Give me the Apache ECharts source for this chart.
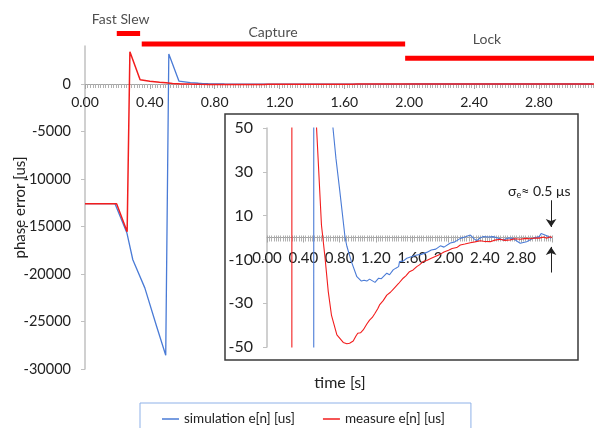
<!DOCTYPE html>
<html><head><meta charset="utf-8">
<script src="https://cdn.jsdelivr.net/npm/echarts@6/dist/echarts.min.js"></script>
<style>html,body{margin:0;padding:0;background:#fff}#c{width:594px;height:428px}</style>
</head><body><div id="c"></div>
<script>
// ---- data ----
const simTime = [0.00,0.10,0.185,0.258,0.295,0.369,0.443,0.498,0.517,0.58,0.65,0.70,0.727,0.76,0.80,0.83,0.86,0.88,0.93,0.99,1.04,1.07,1.10,1.13,1.15,1.19,1.23,1.26,1.28,1.32,1.35,1.39,1.42,1.45,1.46,1.50,1.54,1.59,1.65,1.70,1.76,1.81,1.86,1.91,1.95,2.02,2.07,2.13,2.18,2.24,2.28,2.31,2.35,2.38,2.44,2.49,2.55,2.60,2.66,2.71,2.76,2.79,2.86,2.93,3.00,3.02,3.04,3.09,3.13];
const simErr  = [-12600,-12600,-12600,-15650,-18500,-21460,-25580,-28550,3150,300,150,80,50,36,22,11,0,-4,-11,-17.9,-19.9,-19.5,-19.9,-19.0,-19.4,-20.5,-18.6,-18.8,-17.9,-16.3,-17.0,-14.8,-14.0,-13.3,-11,-10.8,-9.5,-8.8,-8.0,-7.7,-6.8,-5.7,-5.3,-3.8,-4.4,-2.5,-2.0,-0.4,0.2,1.1,-0.5,-1.5,-0.2,0.4,0.2,0.4,-0.3,-1.1,-0.2,-0.4,-1.8,-2.6,-1.9,-0.4,0.4,1.8,1.6,0.7,-0.4];
const measTime = [0.00,0.10,0.195,0.26,0.277,0.34,0.40,0.46,0.50,0.54,0.60,0.64,0.675,0.71,0.77,0.84,0.88,0.91,0.95,0.98,1.00,1.03,1.06,1.10,1.13,1.16,1.19,1.22,1.24,1.28,1.32,1.36,1.40,1.45,1.50,1.53,1.57,1.61,1.65,1.68,1.72,1.76,1.81,1.86,1.91,1.95,2.00,2.04,2.09,2.13,2.18,2.24,2.29,2.35,2.40,2.46,2.51,2.57,2.62,2.68,2.73,2.79,2.85,2.90,2.95,3.00,3.05,3.08,3.12,3.14];
const measErr  = [-12600,-12600,-12600,-15550,3400,450,300,180,120,55,5.7,-9.5,-24.7,-35.4,-44.5,-47.9,-48.5,-48.3,-47.3,-45,-43.7,-43.5,-42.2,-39.5,-37.7,-36.5,-34.6,-32.5,-30.8,-28.8,-26.3,-25.0,-23.2,-21.0,-18.6,-17.5,-15.6,-14.8,-13.3,-12.5,-11,-10.5,-9.5,-8.6,-7.6,-6.6,-5.8,-5.0,-4.6,-3.4,-3.0,-2.4,-2.0,-1.5,-1.8,-1.9,-1.2,-0.8,-1.3,-1.1,-0.6,-0.8,-0.4,-0.6,-0.2,-0.3,0.2,-0.3,0.3,0];
const seriesNames = ['simulation e[n] [us]', 'measure e[n] [us]'];
const phaseNames = ['Fast Slew', 'Capture', 'Lock'];
const phaseStart = [0.196, 0.35, 1.975];
const phaseEnd   = [0.34, 1.975, 3.14];
const phaseRow   = [33.5, 44, 58.3];
const phaseLabelX   = [0.22, 1.16, 2.48];
const phaseLabelRow = [19, 32, 39];
const mainXTicks = {min: 0, max: 3.14, step: 0.4};
const mainYTicks = {min: -30000, max: 4000, step: 5000};
const insetYTicks = {min: -50, max: 50, step: 20};
const sigmaArrowT = 3.13;
const sigmaArrowDown = [17, 4.8];
const sigmaArrowUp = [-16, -4.3];
const sigmaLabelPos = [3.0, 20.8];

// ---- chart ----
const BLUE = '#4a7bd6', RED = '#f21d1d';
const zip = (a, b) => a.map((t, i) => [t, b[i]]);
const simData = zip(simTime, simErr), measData = zip(measTime, measErr);
const fmt2 = v => v.toFixed(2);

// axis line at zero with dense minor ticks pointing down (labels drawn by a companion axis)
const zeroAxis = (gi, split, extra) => Object.assign({
  gridIndex: gi, type: 'value', position: 'bottom', min: mainXTicks.min, max: mainXTicks.max, interval: mainXTicks.step,
  axisLine: {onZero: true, lineStyle: {color: '#a6a6a6', width: 1}},
  axisTick: {show: true, length: 5, lineStyle: {color: '#a6a6a6'}},
  minorTick: {show: true, splitNumber: split, length: 4, lineStyle: {color: '#b0b0b0'}},
  splitLine: {show: false},
  axisLabel: {show: false}
}, extra || {});
// label axis along the bottom of a helper grid whose bottom edge is the zero line (short ticks pointing up)
const labelAxis = (gi, split, fs, margin, extra) => Object.assign({
  gridIndex: gi, type: 'value', position: 'bottom', min: mainXTicks.min, max: mainXTicks.max, interval: mainXTicks.step,
  axisLine: {show: false},
  axisTick: {show: true, inside: true, length: 2, lineStyle: {color: '#a6a6a6'}},
  minorTick: {show: true, splitNumber: split, length: 2, lineStyle: {color: '#b0b0b0'}},
  splitLine: {show: false},
  axisLabel: {show: true, formatter: fmt2, showMaxLabel: false, margin: margin, color: '#222', fontSize: fs, fontFamily: 'Lato'}
}, extra || {});

const chart = echarts.init(document.getElementById('c'), null, {renderer: 'canvas'});
const NB = {outerBoundsMode: 'none', containLabel: false};
const option = {
  animation: false,
  backgroundColor: '#fff',
  textStyle: {fontFamily: 'Lato'},
  grid: [
    Object.assign({left: 85, right: 0, top: 46, bottom: 59}, NB),
    Object.assign({left: 267, top: 128, width: 285, height: 219}, NB),
    Object.assign({left: 85, right: 0, top: 0, height: 84}, NB),
    Object.assign({left: 267, top: 128, width: 285, height: 109.5}, NB)
  ],
  xAxis: [
    zeroAxis(0, 25),
    zeroAxis(1, 16, {z: 20}),
    labelAxis(2, 25, 14, 11),
    labelAxis(3, 16, 15, 13, {z: 20})
  ],
  yAxis: [
    {gridIndex: 0, type: 'value', min: mainYTicks.min, max: mainYTicks.max, interval: mainYTicks.step,
     name: 'phase error [us]', nameLocation: 'middle', nameGap: 57, nameRotate: 90, nameMoveOverlap: false,
     nameTextStyle: {fontSize: 15, color: '#222', fontFamily: 'Lato'},
     axisLine: {show: true, lineStyle: {color: '#c0c0c0', width: 1.5}},
     axisTick: {show: true, length: 4, lineStyle: {color: '#c0c0c0'}},
     splitLine: {show: false},
     axisLabel: {formatter: v => String(v), showMaxLabel: false, margin: 14, color: '#222', fontSize: 14.5, fontFamily: 'Lato'}},
    {gridIndex: 1, type: 'value', min: insetYTicks.min, max: insetYTicks.max, interval: insetYTicks.step, z: 20,
     axisLine: {show: true, lineStyle: {color: '#c0c0c0', width: 1.5}},
     axisTick: {show: true, length: 4, lineStyle: {color: '#c0c0c0'}},
     splitLine: {show: false},
     axisLabel: {formatter: v => String(v), margin: 14, color: '#222', fontSize: 16, fontFamily: 'Lato'}},
    {gridIndex: 2, type: 'value', min: 0, max: 84, inverse: true, show: false},
    {gridIndex: 3, type: 'value', min: 0, max: 1, show: false}
  ],
  legend: {
    left: 140, top: 403, data: seriesNames, icon: 'rect', itemWidth: 17, itemHeight: 1.5, itemGap: 28,
    borderColor: '#8eb1e8', borderWidth: 1, padding: [9, 26, 12, 22],
    textStyle: {fontSize: 13.5, color: '#222', fontFamily: 'Lato'}
  },
  graphic: {elements: [
    {type: 'rect', z: 10, shape: {x: 225, y: 114, width: 353, height: 246},
     style: {fill: '#fff', stroke: '#3a3a3a', lineWidth: 1.5}},
    {type: 'text', z: 10, x: 340, y: 383,
     style: {text: 'time [s]', font: '16px Lato', fill: '#222', textAlign: 'center', textVerticalAlign: 'middle', verticalAlign: 'middle'}}
  ]},
  series: [
    {name: seriesNames[0], type: 'line', xAxisIndex: 0, yAxisIndex: 0, data: simData, showSymbol: false, symbol: 'none',
     color: BLUE, lineStyle: {color: BLUE, width: 1.3}, z: 2},
    {name: seriesNames[1], type: 'line', xAxisIndex: 0, yAxisIndex: 0, data: measData, showSymbol: false, symbol: 'none',
     color: RED, lineStyle: {color: RED, width: 1.5}, z: 3},
    {name: seriesNames[0], type: 'line', xAxisIndex: 1, yAxisIndex: 1, data: simData, showSymbol: false, symbol: 'none',
     color: BLUE, lineStyle: {color: BLUE, width: 1.1}, z: 21, clip: true},
    {name: seriesNames[1], type: 'line', xAxisIndex: 1, yAxisIndex: 1, data: measData, showSymbol: false, symbol: 'none',
     color: RED, lineStyle: {color: RED, width: 1.1}, z: 22, clip: true,
     markLine: {silent: true, z: 30, symbol: ['none', 'arrow'], symbolSize: 8, label: {show: false},
       lineStyle: {color: '#222', width: 1, type: 'solid'},
       data: [
         [{coord: [sigmaArrowT, sigmaArrowDown[0]]}, {coord: [sigmaArrowT, sigmaArrowDown[1]]}],
         [{coord: [sigmaArrowT, sigmaArrowUp[0]]}, {coord: [sigmaArrowT, sigmaArrowUp[1]]}]
       ]},
     markPoint: {silent: true, z: 30, symbol: 'circle', symbolSize: 1, itemStyle: {color: 'rgba(0,0,0,0)'},
       data: [{coord: sigmaLabelPos}],
       label: {show: true, position: 'inside', formatter: '{a|σ}{s|e}{a|≈ 0.5 μs}',
         rich: {a: {fontSize: 14, color: '#222', fontFamily: 'Lato'}, s: {fontSize: 9, color: '#222', padding: [7, 0, 0, 0], fontFamily: 'Lato'}}}}
    },
    ...phaseNames.map((n, i) => ({
      type: 'line', xAxisIndex: 2, yAxisIndex: 2, symbol: 'none', silent: true,
      data: [[phaseStart[i], phaseRow[i]], [phaseEnd[i], phaseRow[i]]],
      lineStyle: {color: '#ff0000', width: 5, cap: 'butt'}, z: 5
    })),
    {type: 'scatter', xAxisIndex: 2, yAxisIndex: 2, symbolSize: 0, silent: true,
     data: phaseNames.map((n, i) => [phaseLabelX[i], phaseLabelRow[i], n]),
     label: {show: true, position: 'inside', formatter: p => p.data[2], fontSize: 14, color: '#222', fontFamily: 'Lato'}}
  ]
};
chart.setOption(option);
</script></body></html>
